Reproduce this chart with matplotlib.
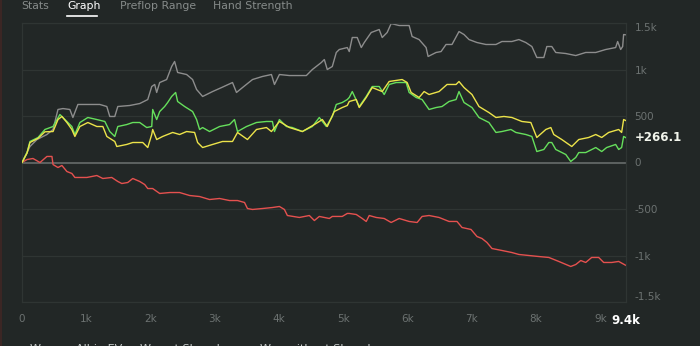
import matplotlib
matplotlib.use("Agg")
import matplotlib.pyplot as plt

# hands played vs. cumulative winnings
won_x = [0, 78, 124, 250, 357, 483, 590, 668, 776, 823, 901, 1025, 1165, 1289, 1366, 1444, 1491,
         1630, 1724, 1832, 1941, 2019, 2034, 2096, 2143, 2220, 2267, 2329, 2391, 2422, 2531, 2655,
         2717, 2764, 2811, 2919, 3075, 3230, 3307, 3354, 3494, 3649, 3804, 3897, 3929, 4006, 4115,
         4208, 4363, 4519, 4627, 4736, 4829, 4891, 4984, 5062, 5093, 5140, 5248, 5357, 5450, 5559,
         5637, 5714, 5823, 5978, 6025, 6134, 6227, 6335, 6444, 6537, 6646, 6755, 6801, 6879, 7003,
         7112, 7267, 7376, 7469, 7609, 7686, 7841, 7935, 8012, 8121, 8199, 8245, 8307, 8463, 8540,
         8618, 8665, 8773, 8929, 9022, 9099, 9239, 9286, 9332, 9363, 9400]
won_y = [0, 107, 226, 269, 355, 387, 516, 462, 387, 301, 430, 484, 462, 441, 333, 280, 387,
         408, 430, 430, 376, 387, 570, 462, 548, 602, 645, 710, 753, 656, 602, 548,
         462, 355, 376, 333, 387, 408, 462, 333, 387, 430, 441, 441, 333, 462, 387,
         376, 333, 387, 484, 387, 495, 624, 645, 677, 699, 763, 602, 710, 817, 817,
         731, 839, 860, 860, 753, 699, 677, 570, 591, 602, 656, 677, 763, 645, 591,
         484, 430, 323, 333, 355, 323, 301, 280, 118, 140, 215, 215, 140, 86, 11,
         54, 107, 107, 161, 118, 161, 194, 140, 161, 280, 266.1]

ev_x = [0, 78, 124, 250, 357, 483, 560, 621, 699, 776, 823, 901, 1025, 1165, 1258, 1320, 1444,
        1475, 1630, 1724, 1879, 1957, 2019, 2034, 2096, 2189, 2345, 2453, 2562, 2686, 2733, 2811,
        2966, 3121, 3276, 3354, 3509, 3649, 3804, 3882, 4006, 4162, 4363, 4550, 4674, 4751, 4860,
        4984, 5062, 5093, 5202, 5248, 5357, 5450, 5606, 5714, 5916, 5994, 6056, 6180, 6258, 6335,
        6491, 6615, 6755, 6801, 6879, 7003, 7112, 7267, 7376, 7500, 7624, 7780, 7919, 8012, 8152,
        8230, 8276, 8401, 8556, 8665, 8820, 8929, 9022, 9130, 9286, 9332, 9363, 9400]
ev_y = [0, 100, 215, 260, 330, 333, 462, 495, 430, 355, 280, 387, 430, 387, 387, 280, 226,
        172, 194, 215, 215, 161, 301, 355, 247, 280, 323, 301, 333, 323, 215, 161,
        194, 226, 226, 323, 247, 355, 376, 333, 441, 376, 333, 408, 462, 387, 548,
        591, 613, 656, 677, 591, 699, 806, 763, 871, 892, 860, 753, 699, 763, 731,
        763, 839, 839, 871, 806, 731, 602, 537, 484, 495, 484, 441, 430, 269, 355,
        376, 301, 247, 172, 247, 269, 301, 269, 323, 355, 323, 462, 450]

sd_x = [0, 124, 233, 388, 483, 560, 637, 745, 792, 870, 1009, 1211, 1320, 1366, 1444, 1491, 1677,
        1832, 1957, 2019, 2065, 2096, 2143, 2251, 2329, 2375, 2422, 2562, 2655, 2717, 2811, 2966,
        3106, 3276, 3338, 3432, 3587, 3742, 3882, 3929, 4006, 4162, 4425, 4519, 4658, 4705, 4751,
        4829, 4891, 4938, 5062, 5093, 5140, 5217, 5280, 5326, 5435, 5559, 5606, 5683, 5745, 5870,
        6025, 6071, 6180, 6289, 6320, 6444, 6522, 6599, 6692, 6801, 6879, 6957, 7081, 7220, 7376,
        7469, 7624, 7733, 7841, 7935, 8012, 8121, 8168, 8245, 8307, 8463, 8618, 8773, 8929, 9084,
        9239, 9270, 9317, 9348, 9363, 9400]
sd_y = [0, 172, 247, 301, 355, 570, 580, 570, 484, 624, 624, 624, 602, 495, 495, 602, 613,
        634, 677, 817, 839, 753, 860, 892, 1032, 1086, 968, 946, 892, 785, 710, 763,
        806, 860, 753, 806, 892, 925, 946, 839, 946, 935, 935, 1000, 1075, 1107, 1000,
        1032, 1183, 1215, 1236, 1193, 1344, 1344, 1236, 1290, 1398, 1430, 1344, 1398, 1494, 1473,
        1473, 1355, 1322, 1236, 1140, 1183, 1193, 1269, 1269, 1408, 1376, 1322, 1290, 1269, 1269,
        1301, 1301, 1322, 1290, 1247, 1129, 1129, 1247, 1247, 1183, 1172, 1150, 1183, 1183, 1215,
        1236, 1301, 1215, 1247, 1376, 1373]

nsd_x = [0, 78, 171, 280, 388, 466, 483, 560, 621, 699, 776, 823, 1009, 1165, 1258, 1397, 1491,
         1553, 1646, 1724, 1832, 1910, 1957, 2034, 2143, 2298, 2453, 2609, 2764, 2919, 3075, 3230,
         3354, 3463, 3509, 3587, 3742, 3897, 4006, 4084, 4130, 4317, 4472, 4550, 4627, 4783, 4829,
         4984, 5062, 5093, 5202, 5295, 5357, 5404, 5512, 5637, 5745, 5870, 6025, 6149, 6227, 6335,
         6491, 6646, 6770, 6848, 6988, 7081, 7158, 7236, 7314, 7469, 7624, 7733, 7888, 8043, 8199,
         8354, 8540, 8618, 8696, 8773, 8866, 8975, 9053, 9177, 9286, 9400]
nsd_y = [0, 32, 43, 0, 65, 65, -22, -54, -32, -97, -118, -161, -161, -140, -172, -161, -204,
         -226, -215, -172, -204, -237, -280, -280, -333, -323, -323, -355, -366, -398, -387, -409,
         -409, -430, -495, -505, -495, -484, -473, -505, -570, -591, -570, -624, -580, -602, -580,
         -580, -548, -548, -559, -602, -634, -570, -591, -602, -645, -602, -634, -645, -580, -570,
         -591, -634, -634, -699, -720, -796, -817, -860, -925, -946, -968, -989, -1000, -1011, -1021,
         -1064, -1118, -1097, -1054, -1075, -1021, -1021, -1075, -1075, -1064, -1107]

y_ticks = [1500, 1000, 500, 0, -500, -1000, -1500]
y_labels = ["1.5k", "1k", "500", "0", "-500", "-1k", "-1.5k"]
x_ticks = [0, 1000, 2000, 3000, 4000, 5000, 6000, 7000, 8000, 9000]
x_labels = ["0", "1k", "2k", "3k", "4k", "5k", "6k", "7k", "8k", "9k"]
tabs = ["Stats", "Graph", "Preflop Range", "Hand Strength"]
legend_names = ["Won", "All-in EV", "Won at Showdown", "Won without Showdown"]

bg = "#222726"
grid_c = "#2f3533"
txt_c = "#6c7271"

fig = plt.figure(figsize=(7, 3.46), dpi=100, facecolor=bg)
ax = fig.add_axes([22 / 700, 44 / 346, 604 / 700, 279 / 346], facecolor=bg)

for y in y_ticks:
    ax.axhline(y, color=grid_c, lw=0.9, zorder=0)
ax.axhline(0, color="#5d6261", lw=1.4, zorder=1)

ax.plot(sd_x, sd_y, color="#8d8d8d", lw=1.0, zorder=2)
ax.plot(nsd_x, nsd_y, color="#e5514f", lw=1.0, zorder=2)
ax.plot(won_x, won_y, color="#66df5c", lw=1.0, zorder=3)
ax.plot(ev_x, ev_y, color="#ece34a", lw=1.0, zorder=4)

ax.set_xlim(0, 9400)
ax.set_ylim(-1500, 1500)
for s in ax.spines.values():
    s.set_color(grid_c)
    s.set_linewidth(0.9)

ax.yaxis.tick_right()
ax.set_yticks(y_ticks)
ax.set_yticklabels(y_labels)
ax.tick_params(axis="y", length=0, pad=6, labelsize=7.5, labelcolor=txt_c)
ylabs = ax.get_yticklabels()
ylabs[0].set_va("top")
ylabs[-1].set_va("bottom")

ax.set_xticks(x_ticks)
ax.set_xticklabels(x_labels)
ax.tick_params(axis="x", length=0, pad=9, labelsize=7.5, labelcolor=txt_c)

ax.annotate("9.4k", xy=(9400, -1500), xytext=(0, -9), textcoords="offset points",
            color="white", fontsize=8.5, fontweight="bold", ha="center", va="top",
            annotation_clip=False)
ax.annotate("+%.1f" % won_y[-1], xy=(9400, won_y[-1]), xytext=(6, 0), textcoords="offset points",
            color="#f2f5ec", fontsize=8.5, fontweight="bold", ha="left", va="center",
            annotation_clip=False)

# tabs along the top
tab_x = [21, 67, 120, 213]
for i, (t, x) in enumerate(zip(tabs, tab_x)):
    fig.text(x / 700, 1 - 6 / 346, t, color="white" if i == 1 else "#868b8a", fontsize=7.8,
             ha="left", va="center")
fig.add_artist(plt.Line2D([67 / 700, 97 / 700], [1 - 16 / 346] * 2, color="white", lw=1.2))

# legend, cut off by the bottom edge
leg_colors = ["#66df5c", "#ece34a", "#8d8d8d", "#e5514f"]
leg_x = [23, 69, 133, 253]
for name, c, x in zip(legend_names, leg_colors, leg_x):
    fig.text(x / 700, 2 / 346, "\u2022", color=c, fontsize=8, ha="left", va="top")
    fig.text((x + 7) / 700, 2.5 / 346, name, color="#c8cccb", fontsize=8, ha="left", va="top")

fig.add_artist(plt.Line2D([0.5 / 700] * 2, [0, 1], color="#3b2624", lw=1.5))

fig.savefig("out.png", dpi=100, facecolor=bg)
